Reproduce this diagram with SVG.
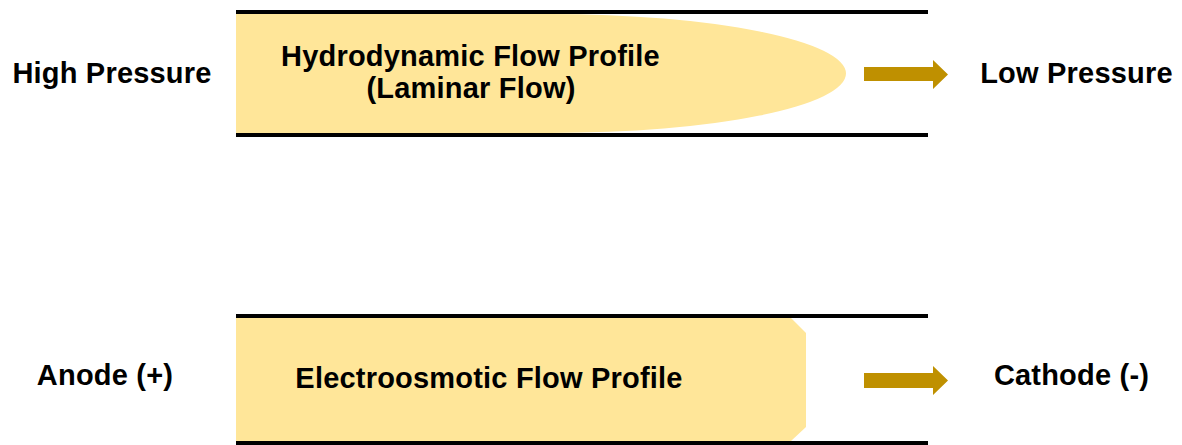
<svg xmlns="http://www.w3.org/2000/svg" width="1182" height="445" viewBox="0 0 1182 445">
  <style>
    .wall { stroke: #000000; stroke-width: 4; fill: none; }
    .fluid { fill: #FFE699; stroke: none; }
    .dir { fill: #BF9000; stroke: none; }
    .lbl { font-family: "Liberation Sans", Arial, sans-serif; font-weight: bold; font-size: 29px; letter-spacing: 0.2px; fill: #000000; text-anchor: middle; }
  </style>

  <!-- Pressure-driven channel -->
  <g id="hydrodynamic-channel">
    <path class="fluid" d="M236,14 L551,14 A295,59.5 0 0 1 551,133 L236,133 Z"/>
    <line class="wall" x1="236" y1="12" x2="928" y2="12"/>
    <line class="wall" x1="236" y1="135" x2="928" y2="135"/>
    <text class="lbl" x="470.5" y="66">Hydrodynamic Flow Profile</text>
    <text class="lbl" x="471" y="98">(Laminar Flow)</text>
  </g>

  <g id="high-pressure">
    <text class="lbl" x="112" y="83">High Pressure</text>
  </g>
  <g id="low-pressure">
    <text class="lbl" x="1076.5" y="83">Low Pressure</text>
  </g>

  <!-- Electrically driven channel -->
  <g id="electroosmotic-channel">
    <path class="fluid" d="M236,318 L791,318 L806,333 L806,427 L791,441 L236,441 Z"/>
    <line class="wall" x1="236" y1="316" x2="928" y2="316"/>
    <line class="wall" x1="236" y1="443" x2="928" y2="443"/>
    <text class="lbl" x="489" y="388">Electroosmotic Flow Profile</text>
  </g>

  <g id="anode">
    <text class="lbl" x="105" y="385">Anode (+)</text>
  </g>
  <g id="cathode">
    <text class="lbl" x="1071.5" y="385">Cathode (-)</text>
  </g>

  <!-- Flow direction arrows -->
  <g id="connectors">
    <path class="dir" d="M864,67 L933,67 L933,60 L948,74.5 L933,89 L933,81 L864,81 Z"/>
    <path class="dir" d="M864,373 L933,373 L933,366 L948,380.5 L933,395 L933,388 L864,388 Z"/>
  </g>
</svg>
